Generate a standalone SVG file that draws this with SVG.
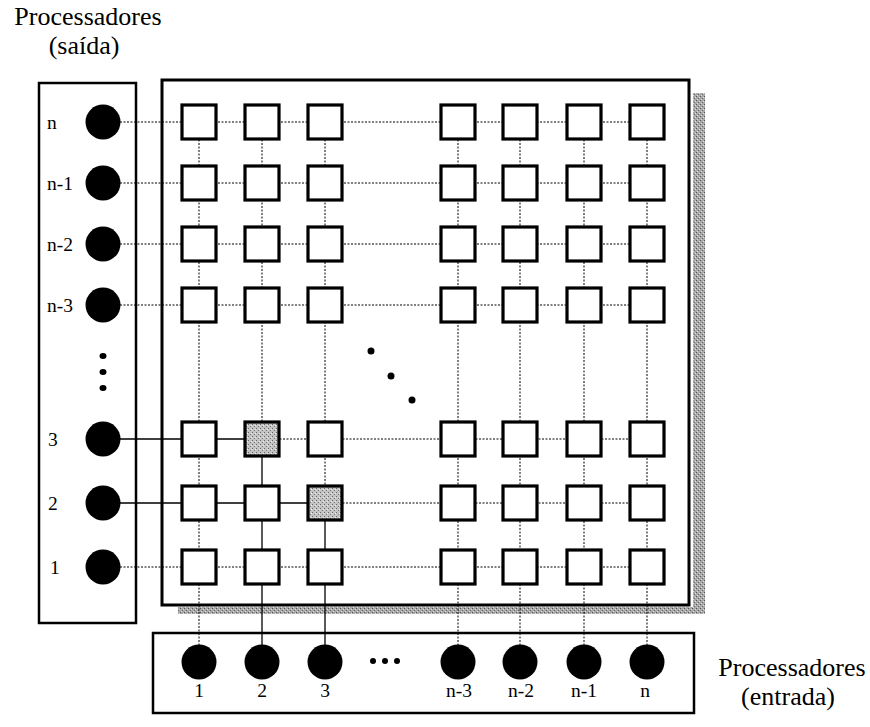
<svg xmlns="http://www.w3.org/2000/svg" width="870" height="727" viewBox="0 0 870 727">
<style>
text{font-family:"Liberation Serif","Times New Roman",serif;fill:#000}
.title{font-size:26px}
.lbl{font-size:19.5px}
.frame{fill:none;stroke:#000;stroke-width:3}
.panel{fill:#fff;stroke:#000;stroke-width:2.5}
.sq{fill:#fff;stroke:#000;stroke-width:3.2}
.sh{fill:url(#stip);stroke:#000;stroke-width:3.2}
.proc{fill:#000}
.dot{stroke:#000;stroke-width:1;stroke-dasharray:2 1.5;fill:none}
.sol{stroke:#000;stroke-width:1.3;fill:none}
.shadow{fill:url(#stip2)}
</style>
<defs>
<pattern id="stip" width="4" height="4" patternUnits="userSpaceOnUse">
<rect width="4" height="4" fill="#c4c4c4"/>
<rect x="0" y="0" width="1" height="1" fill="#666"/>
<rect x="2" y="2" width="1" height="1" fill="#777"/>
<rect x="3" y="1" width="1" height="1" fill="#eee"/>
</pattern>
<pattern id="stip2" width="4" height="4" patternUnits="userSpaceOnUse">
<rect width="4" height="4" fill="#a8a8a8"/>
<rect x="0" y="0" width="1" height="1" fill="#555"/>
<rect x="2" y="2" width="1" height="1" fill="#666"/>
<rect x="1" y="3" width="1" height="1" fill="#ddd"/>
<rect x="3" y="1" width="1" height="1" fill="#e0e0e0"/>
</pattern>
</defs>

<!-- titles -->
<text class="title" x="88" y="25" text-anchor="middle">Processadores</text>
<text class="title" x="84" y="54" text-anchor="middle">(saída)</text>
<text class="title" x="792" y="676" text-anchor="middle">Processadores</text>
<text class="title" x="788" y="705" text-anchor="middle">(entrada)</text>

<!-- shadow of switch box -->
<rect class="shadow" x="693" y="93" width="12" height="521"/>
<rect class="shadow" x="178" y="607" width="527" height="7"/>

<!-- frames -->
<g id="output-panel"><rect class="panel" x="39" y="83" width="97" height="540"/></g>
<g id="switch-box"><rect class="frame" x="162" y="80" width="527" height="525"/></g>
<g id="input-panel"><rect class="panel" x="153" y="633" width="541" height="80"/></g>

<!-- connectors -->
<g id="connectors">
<path class="dot" d="M120 122H647M120 183H647M120 244H647M120 305H647M262 439H647M325 503H647M120 567H647"/>
<path class="sol" d="M120 439H262M120 503H325"/>
<path class="dot" d="M199 122V661M262 122V439M325 122V503M458 122V661M520 122V661M584 122V661M647 122V661"/>
<path class="sol" d="M262 439V661M325 503V661"/>
</g>

<!-- output processors -->
<g id="out-n"><circle class="proc" cx="103" cy="122" r="17.5"/><text class="lbl" x="47" y="129">n</text></g>
<g id="out-n-1"><circle class="proc" cx="103" cy="183" r="17.5"/><text class="lbl" x="47" y="190">n-1</text></g>
<g id="out-n-2"><circle class="proc" cx="103" cy="244" r="17.5"/><text class="lbl" x="47" y="251">n-2</text></g>
<g id="out-n-3"><circle class="proc" cx="103" cy="305" r="17.5"/><text class="lbl" x="47" y="312">n-3</text></g>
<g id="out-ellipsis"><ellipse class="proc" cx="103" cy="356" rx="3.5" ry="3"/><ellipse class="proc" cx="103" cy="372" rx="3.5" ry="3"/><ellipse class="proc" cx="103" cy="388" rx="3.5" ry="3"/></g>
<g id="out-3"><circle class="proc" cx="103" cy="439" r="17.5"/><text class="lbl" x="48" y="446">3</text></g>
<g id="out-2"><circle class="proc" cx="103" cy="503" r="17.5"/><text class="lbl" x="48" y="510">2</text></g>
<g id="out-1"><circle class="proc" cx="103" cy="567" r="17.5"/><text class="lbl" x="50" y="574">1</text></g>

<!-- input processors -->
<g id="in-1"><circle class="proc" cx="199" cy="662" r="17.5"/><text class="lbl" x="199" y="697" text-anchor="middle">1</text></g>
<g id="in-2"><circle class="proc" cx="262" cy="662" r="17.5"/><text class="lbl" x="262" y="697" text-anchor="middle">2</text></g>
<g id="in-3"><circle class="proc" cx="325" cy="662" r="17.5"/><text class="lbl" x="325" y="697" text-anchor="middle">3</text></g>
<g id="in-ellipsis"><circle class="proc" cx="373" cy="661" r="3"/><circle class="proc" cx="385" cy="661" r="3"/><circle class="proc" cx="397" cy="661" r="3"/></g>
<g id="in-n-3"><circle class="proc" cx="458" cy="662" r="17.5"/><text class="lbl" x="459" y="697" text-anchor="middle">n-3</text></g>
<g id="in-n-2"><circle class="proc" cx="520" cy="662" r="17.5"/><text class="lbl" x="521" y="697" text-anchor="middle">n-2</text></g>
<g id="in-n-1"><circle class="proc" cx="584" cy="662" r="17.5"/><text class="lbl" x="584" y="697" text-anchor="middle">n-1</text></g>
<g id="in-n"><circle class="proc" cx="647" cy="662" r="17.5"/><text class="lbl" x="645" y="697" text-anchor="middle">n</text></g>

<!-- crosspoint switches -->
<g id="switches">
<g id="sw-rn"><rect class="sq" x="182" y="105" width="34" height="34"/><rect class="sq" x="245" y="105" width="34" height="34"/><rect class="sq" x="308" y="105" width="34" height="34"/><rect class="sq" x="441" y="105" width="34" height="34"/><rect class="sq" x="503" y="105" width="34" height="34"/><rect class="sq" x="567" y="105" width="34" height="34"/><rect class="sq" x="630" y="105" width="34" height="34"/></g>
<g id="sw-rn-1"><rect class="sq" x="182" y="166" width="34" height="34"/><rect class="sq" x="245" y="166" width="34" height="34"/><rect class="sq" x="308" y="166" width="34" height="34"/><rect class="sq" x="441" y="166" width="34" height="34"/><rect class="sq" x="503" y="166" width="34" height="34"/><rect class="sq" x="567" y="166" width="34" height="34"/><rect class="sq" x="630" y="166" width="34" height="34"/></g>
<g id="sw-rn-2"><rect class="sq" x="182" y="227" width="34" height="34"/><rect class="sq" x="245" y="227" width="34" height="34"/><rect class="sq" x="308" y="227" width="34" height="34"/><rect class="sq" x="441" y="227" width="34" height="34"/><rect class="sq" x="503" y="227" width="34" height="34"/><rect class="sq" x="567" y="227" width="34" height="34"/><rect class="sq" x="630" y="227" width="34" height="34"/></g>
<g id="sw-rn-3"><rect class="sq" x="182" y="288" width="34" height="34"/><rect class="sq" x="245" y="288" width="34" height="34"/><rect class="sq" x="308" y="288" width="34" height="34"/><rect class="sq" x="441" y="288" width="34" height="34"/><rect class="sq" x="503" y="288" width="34" height="34"/><rect class="sq" x="567" y="288" width="34" height="34"/><rect class="sq" x="630" y="288" width="34" height="34"/></g>
<g id="sw-r3"><rect class="sq" x="182" y="422" width="34" height="34"/><rect class="sh" x="245" y="422" width="34" height="34"/><rect class="sq" x="308" y="422" width="34" height="34"/><rect class="sq" x="441" y="422" width="34" height="34"/><rect class="sq" x="503" y="422" width="34" height="34"/><rect class="sq" x="567" y="422" width="34" height="34"/><rect class="sq" x="630" y="422" width="34" height="34"/></g>
<g id="sw-r2"><rect class="sq" x="182" y="486" width="34" height="34"/><rect class="sq" x="245" y="486" width="34" height="34"/><rect class="sh" x="308" y="486" width="34" height="34"/><rect class="sq" x="441" y="486" width="34" height="34"/><rect class="sq" x="503" y="486" width="34" height="34"/><rect class="sq" x="567" y="486" width="34" height="34"/><rect class="sq" x="630" y="486" width="34" height="34"/></g>
<g id="sw-r1"><rect class="sq" x="182" y="550" width="34" height="34"/><rect class="sq" x="245" y="550" width="34" height="34"/><rect class="sq" x="308" y="550" width="34" height="34"/><rect class="sq" x="441" y="550" width="34" height="34"/><rect class="sq" x="503" y="550" width="34" height="34"/><rect class="sq" x="567" y="550" width="34" height="34"/><rect class="sq" x="630" y="550" width="34" height="34"/></g>
</g>

<g id="grid-ellipsis"><circle class="proc" cx="371" cy="351" r="3.5"/><circle class="proc" cx="391" cy="376" r="3.5"/><circle class="proc" cx="412" cy="400" r="3.5"/></g>
</svg>
